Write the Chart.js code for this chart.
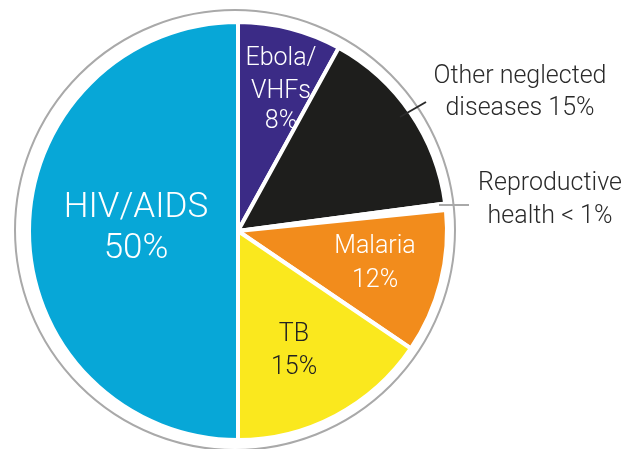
<!DOCTYPE html>
<html>
<head>
<meta charset="utf-8">
<script src="https://cdn.jsdelivr.net/npm/chart.js@4.4.1/dist/chart.umd.min.js"></script>
<style>
html,body{margin:0;padding:0;background:#fff;}
#wrap{width:630px;height:449px;position:relative;}
</style>
</head>
<body>
<div id="wrap"><canvas id="c" width="630" height="449"></canvas></div>
<script>
// ---- data ----
const categories = ["Ebola/VHFs", "Other neglected diseases", "Reproductive health", "Malaria", "TB", "HIV/AIDS"];
const shares = [8.0, 14.9, 0.5, 11.1, 15.5, 50];
const labelLines = [
  ["Ebola/", "VHFs", "8%"],
  ["Other neglected", "diseases 15%"],
  ["Reproductive", "health < 1%"],
  ["Malaria", "12%"],
  ["TB", "15%"],
  ["HIV/AIDS", "50%"]
];
const sliceColors = ["#3b2b86", "#1e1e1c", "#ffffff", "#f28c1c", "#fae81e", "#07a7d7"];

// ---- label styling/placement (text only) ----
const labelStyle = [
  {x: 281, y: [65, 98, 128], size: 25, color: "#ffffff", weight: 300},
  {x: 520, y: [83, 115], size: 25, color: "#2a2a2a", weight: 300},
  {x: 550, y: [190, 223], size: 25, color: "#2a2a2a", weight: 300},
  {x: 375, y: [253, 287], size: 25, color: "#ffffff", weight: 300},
  {x: 294, y: [341, 374], size: 25, color: "#222222", weight: 300},
  {x: 136, y: [217, 258], size: 35, color: "#ffffff", weight: 300}
];

const decorPlugin = {
  id: 'decor',
  afterDatasetsDraw(chart) {
    const ctx = chart.ctx;
    const arc = chart.getDatasetMeta(0).data[0];
    const cx = arc.x, cy = arc.y, R = arc.outerRadius;
    ctx.save();
    // outer grey ring
    ctx.beginPath();
    ctx.strokeStyle = "#a9a9a9";
    ctx.lineWidth = 2;
    ctx.arc(cx - 3, cy - 1, R + 11, 0, Math.PI * 2);
    ctx.stroke();
    // leader lines
    ctx.lineWidth = 2;
    ctx.strokeStyle = "#2a2a2a";
    ctx.beginPath(); ctx.moveTo(400, 117); ctx.lineTo(426, 102); ctx.stroke();
    ctx.strokeStyle = "#a9a9a9";
    ctx.beginPath(); ctx.moveTo(439, 205); ctx.lineTo(469, 205); ctx.stroke();
    // labels
    ctx.textAlign = "center";
    ctx.textBaseline = "alphabetic";
    labelLines.forEach((lines, i) => {
      const s = labelStyle[i];
      ctx.fillStyle = s.color;
      ctx.font = s.weight + " " + s.size + "px Roboto";
      lines.forEach((t, j) => ctx.fillText(t, s.x, s.y[j]));
    });
    ctx.restore();
  }
};

new Chart(document.getElementById('c'), {
  type: 'pie',
  data: {
    labels: categories,
    datasets: [{
      data: shares,
      backgroundColor: sliceColors,
      borderColor: "#ffffff",
      borderWidth: 4,
      hoverOffset: 0
    }]
  },
  options: {
    responsive: false,
    animation: false,
    radius: 209,
    layout: {padding: {left: 0, right: 154, top: 13, bottom: 0}},
    plugins: {legend: {display: false}, tooltip: {enabled: false}}
  },
  plugins: [decorPlugin]
});
</script>
</body>
</html>
